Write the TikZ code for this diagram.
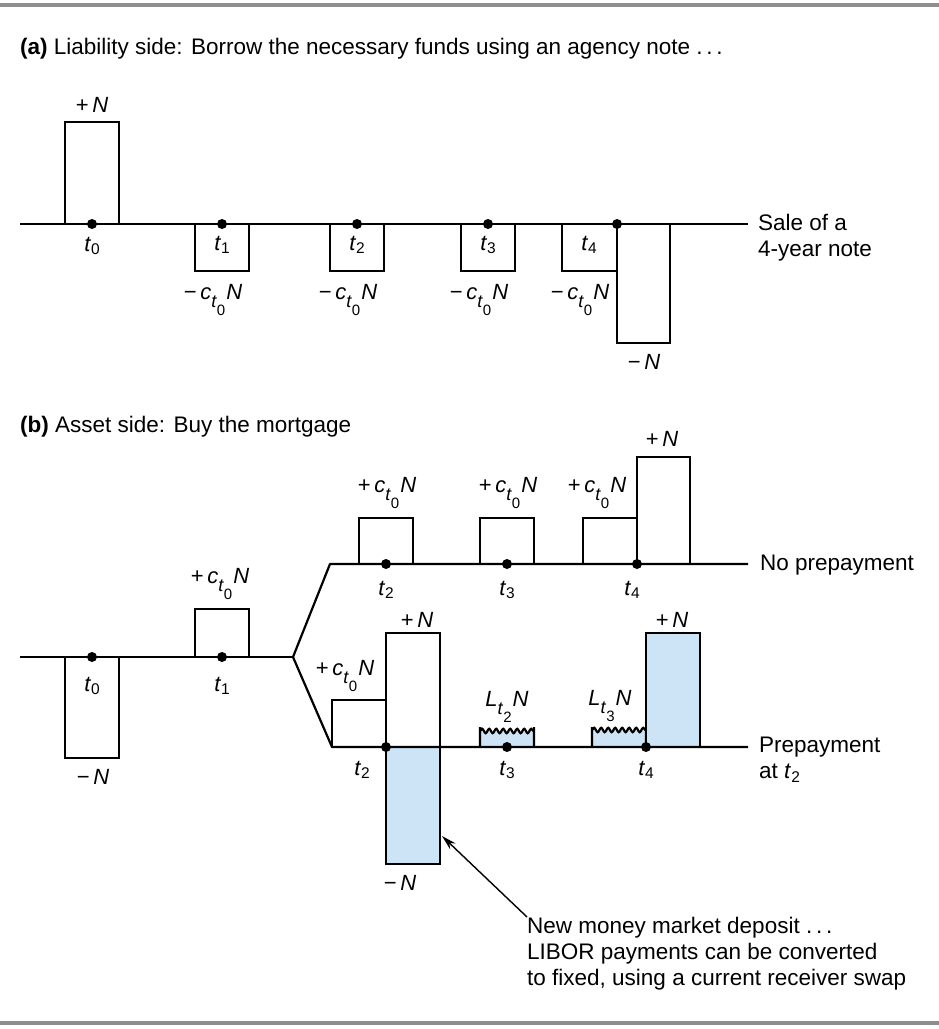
\documentclass[tikz,border=0pt]{standalone}
\usepackage{fontspec}
\setmainfont{Liberation Sans}
\usetikzlibrary{arrows.meta,decorations.pathmorphing}
\definecolor{cashblue}{HTML}{CCE4F6}
\definecolor{rulegray}{HTML}{8E8E8E}
\newcommand{\tsub}[1]{\textit{t}\raisebox{-3.5pt}{\fontsize{15.5}{16}\selectfont #1}}
\newcommand{\tlow}[1]{\raisebox{-8pt}{\fontsize{18}{18}\selectfont\textit{t}\raisebox{-8pt}{\fontsize{15}{15}\selectfont #1}}}
\newcommand{\ctz}{\textit{c}\tlow{0}\kern1pt\textit{N}}
\newcommand{\ltz}[1]{\textit{L}\tlow{#1}\kern1pt\textit{N}}
\tikzset{
  frame/.style={draw=rulegray,line width=4pt},
  axis/.style={draw=black,line width=2.2pt},
  flow/.style={draw=black,line width=2.2pt},
  shaded/.style={flow,fill=cashblue},
  wavy/.style={decoration={snake,segment length=7pt,amplitude=2.2pt}},
  dot/.style={circle,fill=black,inner sep=0pt,minimum size=10pt},
  lbl/.style={font=\fontsize{22}{26}\selectfont,inner sep=0pt},
  amount/.style={lbl,anchor=base},
  heading/.style={font=\fontsize{22.5}{27}\selectfont,anchor=west,inner sep=0pt},
  caption/.style={font=\fontsize{22.5}{26}\selectfont,anchor=west,align=left,inner sep=0pt},
  pointer/.style={-{Stealth[length=15pt,width=8pt]},draw=black,line width=1.4pt}
}
\begin{document}
\begin{tikzpicture}[x=1pt,y=-1pt]
\path[use as bounding box] (0,0) rectangle (939,1029);
\draw[frame] (0,5) -- (939,5);
\draw[frame] (0,1023) -- (939,1023);
% (a) liability side
\node[heading] (titleA) at (20,49) {\textbf{(a)} Liability side: Borrow the necessary funds using an agency note .\,.\,.};
\draw[flow] (65,122) rectangle (119,224);
\node[lbl] (plusA) at (92,105) {+\,\textit{N}};
\node[lbl] (tA0) at (92,246) {\tsub{0}};
\foreach \x/\n in {222/1,357/2,488/3}{
  \draw[flow] (\x-27,224) rectangle (\x+27,271);
  \node[lbl] (tA\n) at (\x,245) {\tsub{\n}};
  \node[amount] (cA\n) at (\x-9,299) {−\,\ctz};
}
\draw[flow] (562,224) rectangle (617,271);
\draw[flow] (617,224) rectangle (670,343);
\node[lbl] (tA4) at (589,245) {\tsub{4}};
\node[amount] (cA4) at (580,299) {−\,\ctz};
\node[lbl] (minusA) at (644,362) {−\,\textit{N}};
\draw[axis] (20,224) -- (748,224);
\foreach \x/\n in {92/0,222/1,357/2,488/3,617/4}
  \node[dot] (dA\n) at (\x,224) {};
\node[caption] (saleA) at (758,237.5) {Sale of a\\4-year note};
% (b) asset side
\node[heading] (titleB) at (20,427) {\textbf{(b)} Asset side: Buy the mortgage};
\draw[flow] (65,657) rectangle (119,758);
\draw[flow] (195,609) rectangle (249,657);
\node[lbl] (tB0) at (92,686) {\tsub{0}};
\node[lbl] (minusB) at (93,777) {−\,\textit{N}};
\node[lbl] (tB1) at (222,686) {\tsub{1}};
\node[amount] (cB1) at (220,583) {+\,\ctz};
\draw[axis] (20,657) -- (293,657);
\foreach \x/\n in {92/0,222/1}
  \node[dot] (dB\n) at (\x,657) {};
% no prepayment
\foreach \x/\n/\c in {386/2/387,507/3/508}{
  \draw[flow] (\x-27,518) rectangle (\x+27,564);
  \node[amount] (cU\n) at (\c,492) {+\,\ctz};
  \node[lbl] (tU\n) at (\x,590) {\tsub{\n}};
}
\draw[flow] (583,518) rectangle (637,564);
\draw[flow] (637,457) rectangle (690,564);
\node[amount] (cU4) at (597,492) {+\,\ctz};
\node[lbl] (plusU) at (662,439) {+\,\textit{N}};
\node[lbl] (tU4) at (632,590) {\tsub{4}};
\draw[axis,line join=round] (293,657) -- (330,564) -- (748,564);
\foreach \x/\n in {386/2,507/3,637/4}
  \node[dot] (dU\n) at (\x,564) {};
\node[caption] (noprep) at (760,565) {No prepayment};
% prepayment at t2
\draw[flow] (332,700) rectangle (386,747);
\draw[flow] (386,633) rectangle (440,747);
\draw[shaded] (386,747) rectangle (440,864);
\draw[shaded] (480,747) -- (480,727) -- (480,731)
  decorate[wavy]{-- (534,731)} -- (534,727) -- (534,747);
\draw[shaded] (592,747) -- (592,727) -- (592,730)
  decorate[wavy]{-- (646,730)} -- (646,727) -- (646,747);
\draw[shaded] (646,633) rectangle (700,747);
\node[amount] (cP2) at (345,675) {+\,\ctz};
\node[lbl] (plusP2) at (417,620) {+\,\textit{N}};
\node[lbl] (minusP2) at (400,883) {−\,\textit{N}};
\node[amount] (lP3) at (507,706) {\ltz{2}};
\node[amount] (lP4) at (610,705) {\ltz{3}};
\node[lbl] (plusP4) at (672,620) {+\,\textit{N}};
\node[lbl] (tP2) at (362,770) {\tsub{2}};
\node[lbl] (tP3) at (507,770) {\tsub{3}};
\node[lbl] (tP4) at (646,770) {\tsub{4}};
\draw[axis,line join=round] (293,657) -- (332,747) -- (748,747);
\foreach \x/\n in {386/2,507/3,646/4}
  \node[dot] (dP\n) at (\x,747) {};
\node[caption] (prep) at (759,759.5) {Prepayment\\at \tsub{2}};
% money market deposit
\node[caption,anchor=north west] (deposit) at (527,917) {New money market deposit .\,.\,.\\LIBOR payments can be converted\\to fixed, using a current receiver swap};
\coordinate (tip) at (442,836);
\draw[pointer] (deposit.north west) -- (tip);
\end{tikzpicture}
\end{document}
